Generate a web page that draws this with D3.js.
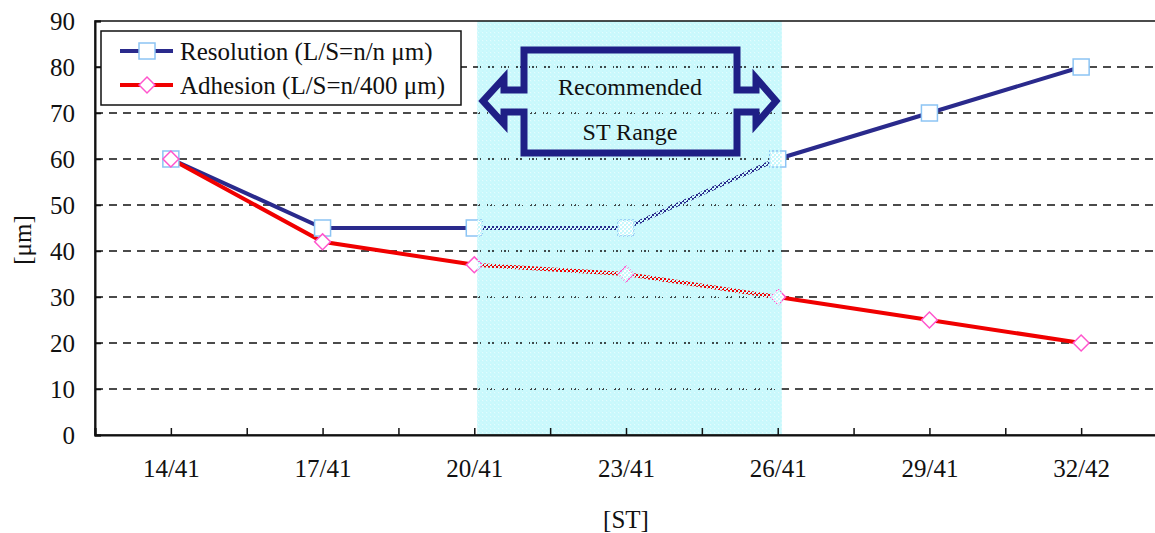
<!DOCTYPE html>
<html><head><meta charset="utf-8">
<script src="https://cdn.jsdelivr.net/npm/d3@7/dist/d3.min.js"></script>
<style>body{margin:0;background:#fff}svg{display:block}text{font-family:"Liberation Serif","Times New Roman",serif;fill:#111}</style>
</head><body><svg id="c" width="1155" height="533"></svg>
<script>
const categories = ["14/41","17/41","20/41","23/41","26/41","29/41","32/42"];
const resolution = [60,45,45,45,60,70,80];
const adhesion = [60,42,37,35,30,25,20];
const yTicks = [0,10,20,30,40,50,60,70,80,90];
const seriesNames = ["Resolution (L/S=n/n \u03bcm)","Adhesion (L/S=n/400 \u03bcm)"];
const rangeStart = "20/41", rangeEnd = "26/41";

const svg = d3.select("#c");
const L = 95, R = 1157, T = 21, B = 435;
const xi = d3.scaleLinear().domain([-0.5, categories.length - 0.5]).range([L, R]);
const x = c => xi(categories.indexOf(c));
const y = d3.scaleLinear().domain([0, 90]).range([B, T]);
const FS = 25;

// dither pattern for the shaded range
const defs = svg.append("defs");
const pat = defs.append("pattern").attr("id", "dith").attr("width", 4).attr("height", 4).attr("patternUnits", "userSpaceOnUse");
pat.append("rect").attr("x", 0).attr("y", 0).attr("width", 2).attr("height", 2).attr("fill", "#c8f8fc");
pat.append("rect").attr("x", 2).attr("y", 2).attr("width", 2).attr("height", 2).attr("fill", "#c8f8fc");
pat.append("rect").attr("x", 2).attr("y", 0).attr("width", 1).attr("height", 1).attr("fill", "#e4fcfe");

const sx = x(rangeStart) + 3, sw = x(rangeEnd) - x(rangeStart) + 1;
svg.append("rect").attr("x", sx).attr("y", T).attr("width", sw).attr("height", B - T).attr("fill", "#cdf9fc");

// grid
svg.append("g").selectAll("line").data(yTicks.filter(v => v > 0 && v < 90)).join("line")
  .attr("x1", L).attr("x2", R).attr("y1", d => y(d)).attr("y2", d => y(d))
  .attr("stroke", "#111").attr("stroke-width", 1.4).attr("stroke-dasharray", "8,6");

// lines
const line = d3.line().x((d, i) => xi(i)).y(d => y(d));
svg.append("path").datum(resolution).attr("d", line).attr("fill", "none").attr("stroke", "#2a2a8c").attr("stroke-width", 4);
svg.append("path").datum(adhesion).attr("d", line).attr("fill", "none").attr("stroke", "#f00000").attr("stroke-width", 4);

// markers
const sq = 16;
svg.append("g").selectAll("rect").data(resolution).join("rect")
  .attr("x", (d, i) => xi(i) - sq/2).attr("y", d => y(d) - sq/2).attr("width", sq).attr("height", sq)
  .attr("fill", "#fff").attr("stroke", "#8cc4f4").attr("stroke-width", 1.5);
const diamond = d3.symbol().type(d3.symbolDiamond2).size(160);
svg.append("g").selectAll("path").data(adhesion).join("path")
  .attr("transform", (d, i) => `translate(${xi(i)},${y(d)})`).attr("d", diamond)
  .attr("fill", "#fff").attr("stroke", "#ff55cc").attr("stroke-width", 1.5);

// dithered overlay over the range
svg.append("rect").attr("x", sx).attr("y", T).attr("width", sw).attr("height", B - T).attr("fill", "url(#dith)");

// frame
svg.append("rect").attr("x", L).attr("y", T).attr("width", R - L).attr("height", B - T)
  .attr("fill", "none").attr("stroke", "#111").attr("stroke-width", 1.5);

// axes
const xAxis = d3.axisBottom(xi).tickValues(d3.range(-0.5, categories.length, 0.5))
  .tickSize(-7).tickPadding(24).tickFormat(v => Number.isInteger(v) ? categories[v] : "");
const gx = svg.append("g").attr("transform", `translate(0,${B})`).call(xAxis);
gx.select(".domain").attr("stroke", "#111").attr("stroke-width", 2);
gx.selectAll(".tick line").attr("stroke", "#111").attr("stroke-width", 1.5);
gx.selectAll("text").attr("font-size", FS).attr("font-family", "Liberation Serif").attr("fill", "#111");

const yAxis = d3.axisLeft(y).tickValues(yTicks).tickSize(-6).tickPadding(20).tickFormat(d3.format("d"));
const gy = svg.append("g").attr("transform", `translate(${L},0)`).call(yAxis);
gy.select(".domain").attr("stroke", "#111").attr("stroke-width", 2);
gy.selectAll(".tick line").attr("stroke", "#111").attr("stroke-width", 1.5);
gy.selectAll("text").attr("font-size", FS).attr("font-family", "Liberation Serif").attr("fill", "#111");

// axis titles
svg.append("text").attr("transform", "translate(31,240) rotate(-90)").attr("text-anchor", "middle")
  .attr("font-size", FS).text("[\u03bcm]");
svg.append("text").attr("x", x("23/41")).attr("y", 528).attr("text-anchor", "middle").attr("font-size", FS).text("[ST]");

// legend
const lg = svg.append("g");
lg.append("rect").attr("x", 101).attr("y", 31).attr("width", 360).attr("height", 74)
  .attr("fill", "#fff").attr("stroke", "#111").attr("stroke-width", 1.5);
[0, 1].forEach(i => {
  const ly = 51 + i * 34;
  lg.append("line").attr("x1", 120).attr("x2", 173).attr("y1", ly).attr("y2", ly)
    .attr("stroke", i ? "#f00000" : "#2a2a8c").attr("stroke-width", 4);
  if (i === 0) lg.append("rect").attr("x", 147 - sq/2).attr("y", ly - sq/2).attr("width", sq).attr("height", sq)
    .attr("fill", "#fff").attr("stroke", "#8cc4f4").attr("stroke-width", 1.5);
  else lg.append("path").attr("transform", `translate(147,${ly})`).attr("d", diamond)
    .attr("fill", "#fff").attr("stroke", "#ff55cc").attr("stroke-width", 1.5);
  lg.append("text").attr("x", 180).attr("y", ly + 9).attr("font-size", FS).text(seriesNames[i]);
});

// recommended arrow callout
const ax1 = 483, ax2 = 776, rx1 = 524, rx2 = 737, ry1 = 50, ry2 = 153, sy1 = 90, sy2 = 112, hy1 = 78, hy2 = 124, hb1 = 504, hb2 = 756;
const my = (sy1 + sy2) / 2;
const pts = [[rx1, ry1],[rx2, ry1],[rx2, sy1],[hb2, sy1],[hb2, hy1],[ax2, my],[hb2, hy2],[hb2, sy2],[rx2, sy2],[rx2, ry2],
  [rx1, ry2],[rx1, sy2],[hb1, sy2],[hb1, hy2],[ax1, my],[hb1, hy1],[hb1, sy1],[rx1, sy1]];
svg.append("path").attr("d", d3.line()(pts) + "Z").attr("fill", "none").attr("stroke", "#1f1f86")
  .attr("stroke-width", 7).attr("stroke-linejoin", "miter");
svg.append("text").attr("x", 630).attr("y", 95).attr("text-anchor", "middle").attr("font-size", 24).text("Recommended");
svg.append("text").attr("x", 630).attr("y", 140).attr("text-anchor", "middle").attr("font-size", 24).text("ST Range");
</script></body></html>
